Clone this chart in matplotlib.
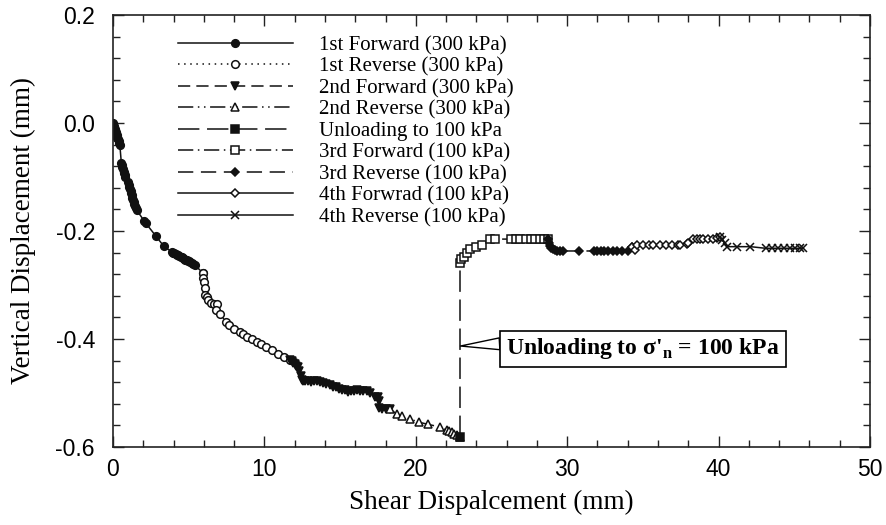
import matplotlib
matplotlib.use("Agg")
import matplotlib.pyplot as plt
from matplotlib.ticker import MultipleLocator

plt.rcParams['mathtext.fontset'] = 'custom'
plt.rcParams['mathtext.rm'] = 'Liberation Serif'
plt.rcParams['mathtext.bf'] = 'Liberation Serif:bold'

# ---------------- data ----------------
fwd1_x = [0.00, 0.03, 0.06, 0.09, 0.12, 0.15, 0.18, 0.21, 0.25, 0.29, 0.33, 0.37, 0.41, 0.45,
          0.55, 0.58, 0.62, 0.66, 0.70, 0.74, 0.78, 0.82,
          1.00, 1.04, 1.08, 1.12, 1.16, 1.20, 1.24, 1.28, 1.32, 1.36, 1.40, 1.45, 1.50, 1.56,
          2.05, 2.15, 2.85, 3.35, 3.90,
          3.98, 4.06, 4.14, 4.22, 4.30, 4.38, 4.46, 4.54, 4.62, 4.70, 4.78, 4.86, 4.94, 5.02, 5.10, 5.20, 5.30, 5.40,
          5.95]
fwd1_y = [0.000, -0.003, -0.006, -0.009, -0.011, -0.014, -0.017, -0.020, -0.023, -0.027, -0.030, -0.033, -0.037, -0.040,
          -0.074, -0.078, -0.082, -0.086, -0.090, -0.093, -0.097, -0.100,
          -0.110, -0.114, -0.118, -0.122, -0.126, -0.130, -0.134, -0.138, -0.142, -0.146, -0.150, -0.154, -0.157, -0.161,
          -0.181, -0.185, -0.210, -0.228, -0.239,
          -0.240, -0.241, -0.243, -0.244, -0.245, -0.247, -0.248, -0.249, -0.250, -0.252, -0.253, -0.254, -0.255, -0.256, -0.258, -0.260, -0.262, -0.263,
          -0.278]

rev1_x = [5.95, 5.97, 6.00, 6.05, 6.10, 6.20, 6.30, 6.50, 6.70, 6.90, 6.80, 7.10, 7.45, 7.65, 8.00, 8.40,
          8.60, 8.85, 9.20, 9.50, 9.80, 10.10, 10.50, 10.90, 11.30, 11.70]
rev1_y = [-0.278, -0.287, -0.295, -0.305, -0.318, -0.323, -0.328, -0.333, -0.335, -0.335, -0.346, -0.354, -0.368, -0.374, -0.382, -0.387,
          -0.390, -0.396, -0.400, -0.405, -0.410, -0.415, -0.421, -0.428, -0.433, -0.439]

fwd2_x = [11.70, 11.80, 11.90, 12.00, 12.10, 12.20, 12.30, 12.40, 12.50, 12.55, 12.70, 12.90, 13.10, 13.30, 13.50,
          13.70, 13.90, 14.10, 14.30, 14.50, 14.70, 14.90, 15.10, 15.30, 15.50, 15.70, 15.90, 16.10, 16.30, 16.50,
          16.80, 17.00, 17.30, 17.50, 17.60, 17.60, 17.80, 18.00, 18.30]
fwd2_y = [-0.439, -0.441, -0.444, -0.447, -0.450, -0.452, -0.460, -0.468, -0.475, -0.478, -0.478, -0.477, -0.479, -0.478, -0.478,
          -0.480, -0.482, -0.483, -0.486, -0.489, -0.488, -0.492, -0.495, -0.495, -0.498, -0.496, -0.497, -0.495, -0.496, -0.496,
          -0.496, -0.500, -0.507, -0.507, -0.515, -0.528, -0.530, -0.530, -0.530]

rev2_x = [18.30, 18.75, 19.10, 19.60, 20.20, 20.80, 21.60, 22.05, 22.20, 22.40, 22.55, 22.75, 22.95]
rev2_y = [-0.530, -0.539, -0.543, -0.548, -0.554, -0.558, -0.563, -0.569, -0.570, -0.573, -0.575, -0.578, -0.581]

unl_x = [22.95, 22.95]
unl_y = [-0.581, -0.259]

fwd3_x = [22.95, 23.00, 23.20, 23.40, 23.60, 24.00, 24.40, 24.90, 25.20, 26.30, 26.60, 26.90, 27.30, 27.60,
          27.90, 28.20, 28.50, 28.70]
fwd3_y = [-0.259, -0.252, -0.248, -0.240, -0.234, -0.229, -0.226, -0.215, -0.215, -0.215, -0.215, -0.215, -0.215, -0.215,
          -0.215, -0.215, -0.215, -0.215]

rev3_x = [28.70, 28.80, 28.85, 28.95, 29.05, 29.20, 29.30, 29.50, 29.70, 30.80, 31.80, 32.00, 32.20, 32.45,
          32.70, 33.00, 33.30, 33.65, 34.00, 34.30]
rev3_y = [-0.215, -0.222, -0.228, -0.232, -0.234, -0.236, -0.237, -0.237, -0.237, -0.237, -0.237, -0.237, -0.237, -0.237,
          -0.237, -0.237, -0.237, -0.237, -0.237, -0.229]

fwd4_x = [34.30, 34.50, 34.60, 35.00, 35.40, 35.70, 36.10, 36.50, 36.90, 37.30, 37.45, 37.90, 38.00, 38.30,
          38.60, 38.80, 39.00, 39.30, 39.60, 39.90, 40.10]
fwd4_y = [-0.229, -0.235, -0.226, -0.226, -0.226, -0.226, -0.226, -0.226, -0.226, -0.226, -0.225, -0.224, -0.222, -0.215,
          -0.215, -0.215, -0.215, -0.215, -0.215, -0.213, -0.211]

rev4_x = [40.10, 40.25, 40.40, 40.55, 41.20, 42.10, 43.10, 43.50, 43.90, 44.30, 44.70, 45.05, 45.40, 45.60]
rev4_y = [-0.211, -0.216, -0.222, -0.229, -0.229, -0.229, -0.232, -0.232, -0.232, -0.232, -0.232, -0.232, -0.232, -0.232]

labels = ["1st Forward (300 kPa)", "1st Reverse (300 kPa)", "2nd Forward (300 kPa)", "2nd Reverse (300 kPa)",
          "Unloading to 100 kPa", "3rd Forward (100 kPa)", "3rd Reverse (100 kPa)", "4th Forwrad (100 kPa)",
          "4th Reverse (100 kPa)"]

x_ticks = [0, 10, 20, 30, 40, 50]
y_ticks = [-0.6, -0.4, -0.2, 0.0, 0.2]

# ---------------- figure ----------------
fig = plt.figure(figsize=(8.86, 5.25), dpi=100)
ax = fig.add_axes([113 / 886, 1 - 447 / 525, (870 - 113) / 886, (447 - 15) / 525])

LC = '#111111'
lw = 1.1
ms = 5.5
series = [
    (fwd1_x, fwd1_y, dict(ls='-', marker='o', mfc=LC, mec=LC)),
    (rev1_x, rev1_y, dict(ls=(0, (1, 3)), marker='o', mfc='white', mec=LC)),
    (fwd2_x, fwd2_y, dict(ls=(0, (8, 4)), marker='v', mfc=LC, mec=LC)),
    (rev2_x, rev2_y, dict(ls=(0, (10, 3, 1, 3, 1, 3)), marker='^', mfc='white', mec=LC)),
    (unl_x, unl_y, dict(ls=(0, (14, 5)), marker='s', mfc=LC, mec=LC, markevery=[0])),
    (fwd3_x, fwd3_y, dict(ls=(0, (10, 3, 1, 3)), marker='s', mfc='white', mec=LC)),
    (rev3_x, rev3_y, dict(ls=(0, (10, 5)), marker='D', mfc=LC, mec=LC, ms=4.5)),
    (fwd4_x, fwd4_y, dict(ls='-', marker='D', mfc='white', mec=LC, ms=4.5)),
    (rev4_x, rev4_y, dict(ls='-', marker='x', mfc=LC, mec=LC)),
]
handles = []
for (xs, ys, kw), lab in zip(series, labels):
    kw = dict(kw)
    kw.setdefault('ms', ms)
    h, = ax.plot(xs, ys, color=LC, lw=lw, mew=1.1, label=lab, **kw)
    handles.append(h)

ax.set_xlim(0, 50)
ax.set_ylim(-0.6, 0.2)
ax.set_xticks(x_ticks)
ax.set_yticks(y_ticks)
ax.xaxis.set_minor_locator(MultipleLocator(2))
ax.yaxis.set_minor_locator(MultipleLocator(0.04))
ax.set_yticklabels(['%.1f' % v for v in y_ticks])
ax.tick_params(which='both', direction='in', top=True, right=True, width=1.0, colors='#222222')
ax.tick_params(which='major', length=8)
ax.tick_params(which='minor', length=5)
for lab in ax.get_xticklabels() + ax.get_yticklabels():
    lab.set_fontfamily('Liberation Sans')
    lab.set_fontsize(16.5)
    lab.set_color('black')
ax.tick_params(axis='x', pad=8)
ax.tick_params(axis='y', pad=13)
for s in ax.spines.values():
    s.set_linewidth(1.2)
    s.set_color('#222222')

ax.set_xlabel('Shear Dispalcement (mm)', fontfamily='Liberation Serif', fontsize=19.5, labelpad=6)
ax.set_ylabel('Vertical Displacement (mm)', fontfamily='Liberation Serif', fontsize=19.5, labelpad=14)

leg = ax.legend(handles=handles, loc='upper left', bbox_to_anchor=(0.086, 0.952), frameon=False,
                prop={'family': 'Liberation Serif', 'size': 15}, numpoints=1,
                handlelength=5.5, handletextpad=1.25, labelspacing=0.09, borderpad=0, borderaxespad=0)

ax.annotate(r"Unloading to $\mathbf{\sigma}$'$_\mathbf{n}$ = 100 kPa", xy=(22.95, -0.413),
            xytext=(0.700, 0.227), textcoords='axes fraction', ha='center', va='center',
            fontfamily='Liberation Serif', fontweight='bold', fontsize=17,
            bbox=dict(boxstyle='square,pad=0.25', fc='white', ec='black', lw=1.2),
            arrowprops=dict(arrowstyle='wedge,tail_width=0.5,shrink_factor=0.5', fc='white', ec='black',
                            lw=1.0, relpos=(0, 0.72), shrinkA=0, shrinkB=0))

fig.savefig('out.png', dpi=100)
